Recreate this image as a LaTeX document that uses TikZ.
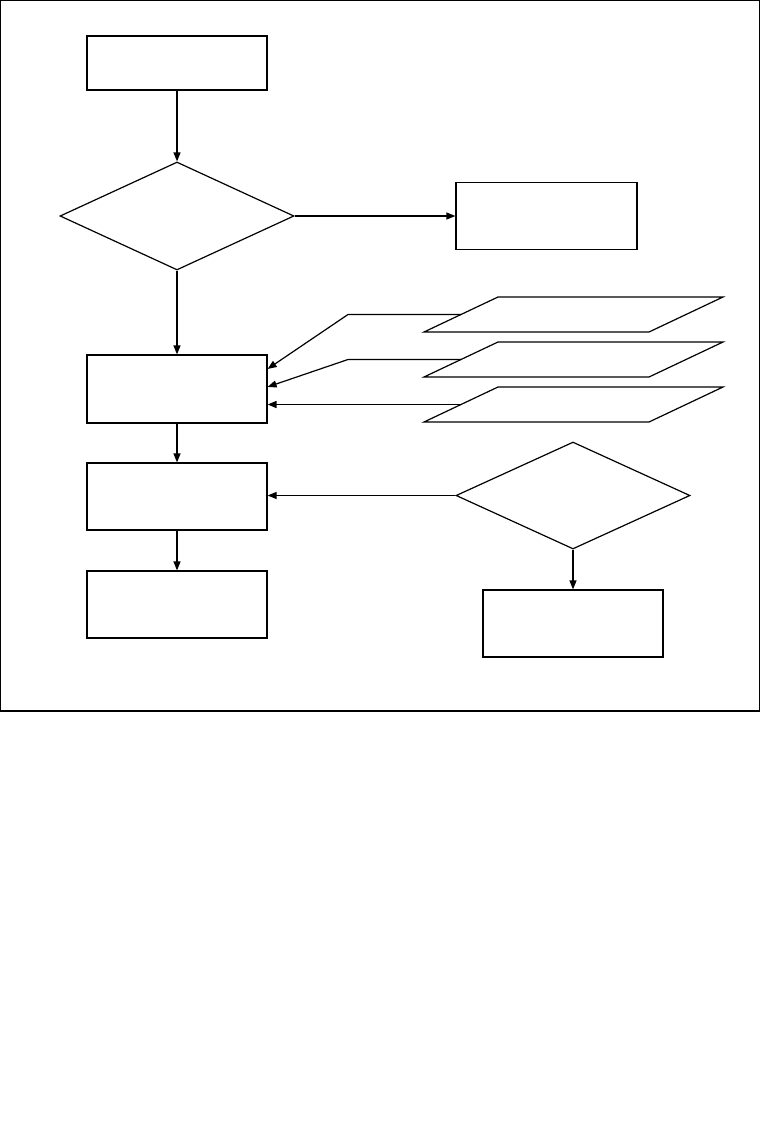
\documentclass[tikz,border=0pt]{standalone}
\usetikzlibrary{shapes.geometric,arrows.meta,calc}
\begin{document}
\begin{tikzpicture}[x=1pt,y=-1pt,line width=1.2pt,
  box/.style={draw,rectangle,minimum width=180pt,minimum height=67pt,inner sep=0pt},
  dec/.style={draw,diamond,minimum width=234pt,minimum height=108pt,inner sep=0pt},
  arr/.style={-{Triangle[length=9pt,width=7pt]}},
  para/.style={draw,line join=miter}]
\useasboundingbox (0,0) rectangle (763,1143);
% frame
\draw (0.6,0.6) rectangle (759.5,711);
% nodes
\node[box,minimum height=54pt] (start) at (177,63) {};
\node[dec] (d1) at (177,216) {};
\node[box,minimum width=181pt] (right) at (546.5,216) {};
\node[box,minimum height=68pt] (b2) at (177,389) {};
\node[box] (b3) at (177,496.5) {};
\node[box] (b4) at (177,604.5) {};
\node[dec,minimum height=107pt] (d2) at (573,495.5) {};
\node[box] (b5) at (573,623.5) {};
% parallelograms
\draw[para] (498,297) -- (723,297) -- (649,332) -- (424,332) -- cycle;
\draw[para] (498,342) -- (723,342) -- (649,377) -- (424,377) -- cycle;
\draw[para] (498,387) -- (723,387) -- (649,422) -- (424,422) -- cycle;
\coordinate (p1) at (461,314.5);
\coordinate (p2) at (461,359.5);
\coordinate (p3) at (461,404.5);
\coordinate (k1) at (348,314.5);
\coordinate (k2) at (348,359.5);
% connectors
\draw[arr] (start) -- (d1);
\draw[arr] (d1.east) -- (right.west);
\draw[arr] (d1.south) -- (b2.north);
\draw[arr] (b2) -- (b3);
\draw[arr] (b3) -- (b4);
\draw[arr] (d2.west) -- (d2.west -| b3.east);
\draw[arr] (d2.south) -- (b5.north);
\draw[arr] (p1) -- (k1) -- ($(b2.north east)!0.21!(b2.south east)$);
\draw[arr] (p2) -- (k2) -- ($(b2.north east)!0.47!(b2.south east)$);
\draw[arr,line width=1.6pt] (p3) -- (p3 -| b2.east);
\end{tikzpicture}
\end{document}
